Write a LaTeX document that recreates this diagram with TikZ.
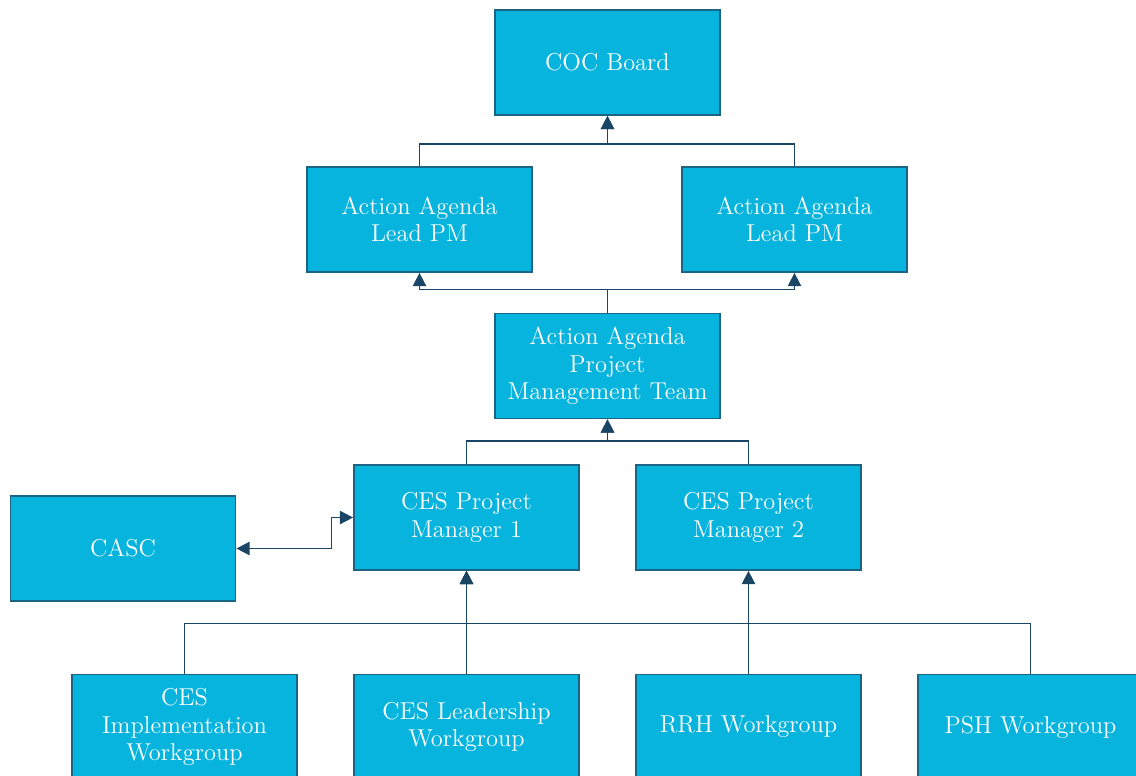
\documentclass[tikz,border=0pt]{standalone}
\usepackage{xcolor}
\usepackage{tikz}
\usetikzlibrary{arrows.meta}

\definecolor{boxfill}{RGB}{7,180,222}
\definecolor{boxline}{RGB}{28,100,132}
\definecolor{linkcol}{RGB}{27,69,101}

\begin{document}
\begin{tikzpicture}[x=0.02cm,y=-0.02cm,
    box/.style={draw=boxline,line width=1pt,fill=boxfill,text=white,
      minimum width=4.5cm,minimum height=2.1cm,align=center,
      font=\fontsize{13.9}{15.6}\selectfont},
    tip/.style={Triangle[width=7.5pt,length=7.5pt]},
    conn/.style={draw=linkcol,line width=0.9pt,-{Triangle[width=7.5pt,length=7.5pt]}}]
  \clip (0,0) rectangle (1136,775);
  \useasboundingbox (0,0) rectangle (1136,775);
  % boxes
  \node[box] (coc) at (607.5,62.5) {COC Board};
  \node[box] (leadl) at (419.5,219.5) {Action Agenda\\Lead PM};
  \node[box] (leadr) at (794.5,219.5) {Action Agenda\\Lead PM};
  \node[box] (pmt) at (607.5,366) {Action Agenda\\Project\\Management Team};
  \node[box] (pm1) at (466.5,517.5) {CES Project\\Manager 1};
  \node[box] (pm2) at (748.5,517.5) {CES Project\\Manager 2};
  \node[box] (casc) at (123,548.5) {CASC};
  \node[box] (impl) at (184.5,727) {CES\\Implementation\\Workgroup};
  \node[box] (lead) at (466.5,727) {CES Leadership\\Workgroup};
  \node[box] (rrh) at (748.5,727) {RRH Workgroup};
  \node[box] (psh) at (1030.5,727) {PSH Workgroup};
  % links
  \draw[conn] (leadl.north) -- ++(0,-22) -| (coc.south);
  \draw[conn] (leadr.north) -- ++(0,-22) -| (coc.south);
  \draw[conn] (pmt.north) -- ++(0,-23) -| (leadl.south);
  \draw[conn] (pmt.north) -- ++(0,-23) -| (leadr.south);
  \draw[conn] (pm1.north) -- ++(0,-23) -| (pmt.south);
  \draw[conn] (pm2.north) -- ++(0,-23) -| (pmt.south);
  \draw[conn,{Triangle[width=7.5pt,length=7.5pt]}-{Triangle[width=7.5pt,length=7.5pt]}]
    (casc.east) -- ++(95,0) |- (pm1.west);
  \draw[conn] (impl.north) -- ++(0,-50) -| (pm1.south);
  \draw[conn] (lead.north) -- (pm1.south);
  \draw[conn] (rrh.north) -- (pm2.south);
  \draw[conn] (psh.north) -- ++(0,-50) -| (pm1.south);
\end{tikzpicture}
\end{document}
